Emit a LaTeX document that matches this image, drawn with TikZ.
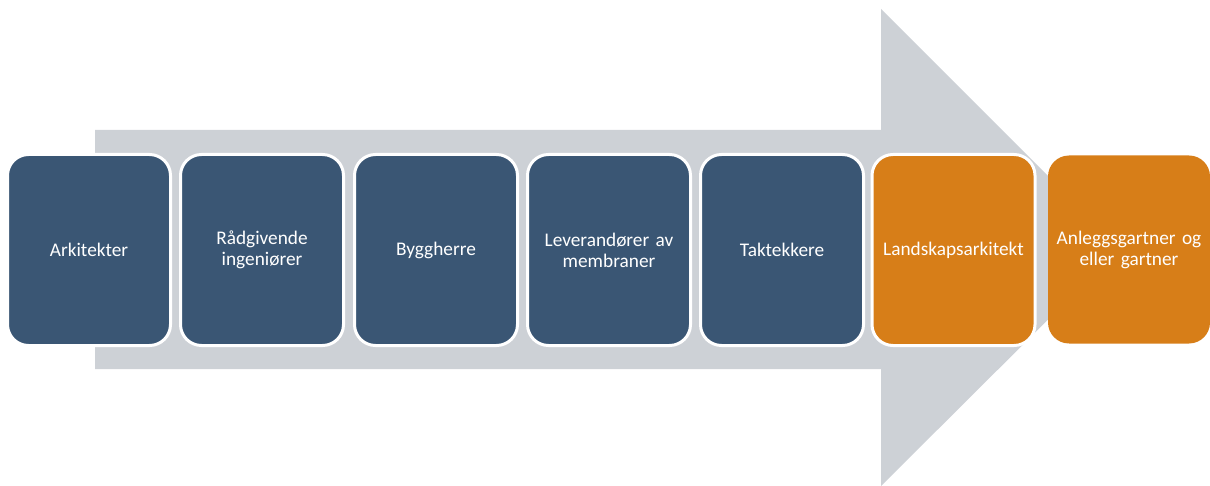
\documentclass[tikz,border=0pt]{standalone}
\usepackage{fontspec}
\setmainfont{Carlito}
\definecolor{boxblue}{RGB}{58,86,116}
\definecolor{boxorange}{RGB}{215,126,24}
\definecolor{arrowgray}{RGB}{205,209,214}
\begin{document}
\begin{tikzpicture}[x=1pt,y=-1pt,
  stage/.style={draw=white, line width=3pt, rounded corners=21pt, minimum width=163pt, minimum height=191pt,
    text=white, align=center, font=\fontsize{19.3}{21}\selectfont, inner sep=0pt, text width=155pt},
  bluestage/.style={stage, fill=boxblue},
  orangestage/.style={stage, fill=boxorange}]
\useasboundingbox (0,0) rectangle (1210,486);
\fill[arrowgray] (95,130) -- (881,130) -- (881,9) -- (1120,248) -- (881,486) -- (881,369) -- (95,369) -- cycle;
\node[bluestage] (s1) at (89,250) {Arkitekter};
\node[bluestage] (s2) at (262,250) {Rådgivende\\ingeniører};
\node[bluestage] (s3) at (436,250) {Byggherre};
\node[bluestage] (s4) at (609,250) {Leverandører av\\membraner};
\node[bluestage] (s5) at (782,250) {Taktekkere};
\node[orangestage] (s6) at (953.5,250) {Landskapsarkitekt};
\node[stage, draw=none, fill=boxorange, minimum width=162pt, minimum height=188pt] (s7) at (1129,249.5) {Anleggsgartner og\\eller gartner};
\end{tikzpicture}
\end{document}
